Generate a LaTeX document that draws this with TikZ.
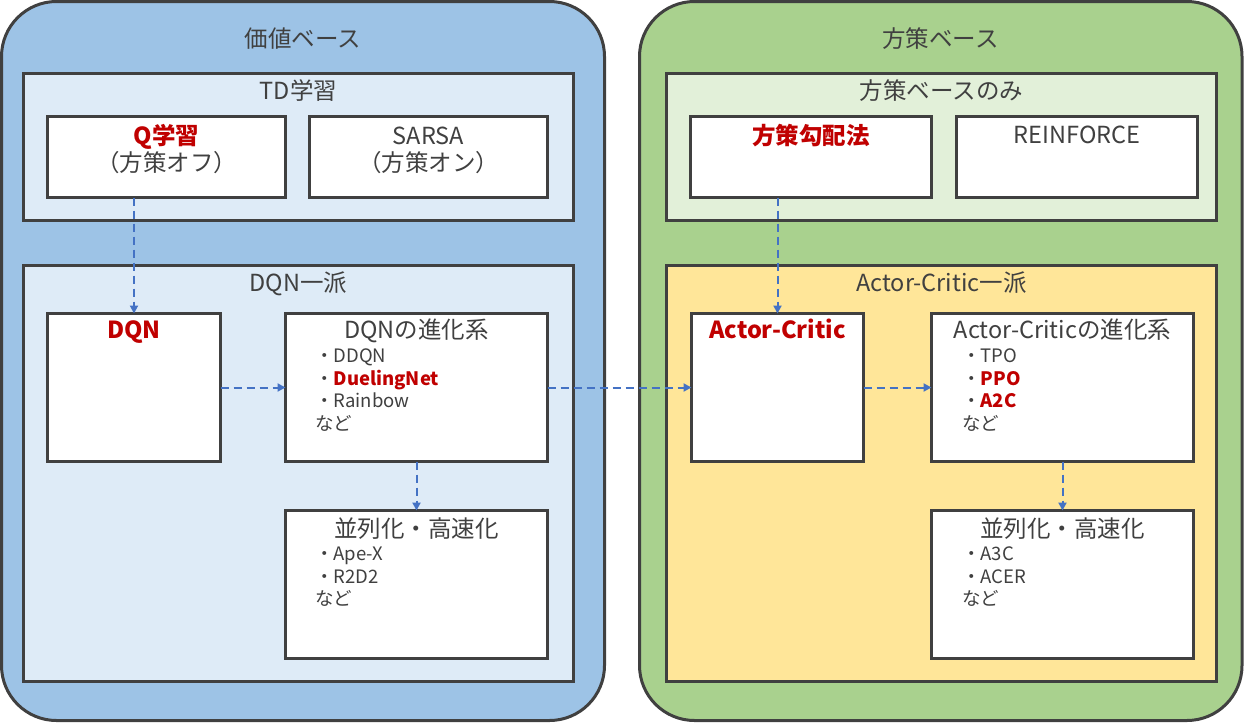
\documentclass[tikz,border=0pt]{standalone}
\usepackage{fontspec}
\setmainfont{Noto Sans CJK JP}
\usetikzlibrary{arrows.meta}
\definecolor{edge}{HTML}{404040}
\definecolor{txt}{HTML}{404040}
\definecolor{redt}{HTML}{C00000}
\definecolor{arr}{HTML}{4472C4}
\definecolor{blueO}{HTML}{9DC3E6}
\definecolor{blueI}{HTML}{DEEBF7}
\definecolor{greenO}{HTML}{A9D18E}
\definecolor{greenI}{HTML}{E2F0D9}
\definecolor{yellowI}{HTML}{FFE699}
\begin{document}
\begin{tikzpicture}[x=1pt,y=-1pt,
  frame/.style={draw=edge, line width=3pt, inner sep=0pt, outer sep=0pt, rectangle},
  wbox/.style={frame, fill=white},
  big/.style={font=\fontsize{23.5}{28}\selectfont, text=txt, inner sep=0pt, anchor=base},
  bigred/.style={font=\fontsize{23.5}{28}\selectfont\bfseries, text=redt, inner sep=0pt, anchor=base},
  item/.style={font=\fontsize{18.5}{22}\selectfont, text=txt, inner sep=0pt, anchor=base west},
  flow/.style={draw=arr, line width=2pt, dash pattern=on 8pt off 5pt, -{Triangle[length=8pt,width=8pt]}},
]
\useasboundingbox (0,0) rectangle (1244,723);

% outer groups
\node[frame, fill=blueO, rounded corners=55pt, minimum width=603pt, minimum height=719pt] (vb) at (303,361) {};
\node[frame, fill=greenO, rounded corners=55pt, minimum width=602.5pt, minimum height=719pt] (pb) at (940.75,361) {};

% left inner groups
\node[frame, fill=blueI, minimum width=550pt, minimum height=147pt] (td) at (298.5,147) {};
\node[frame, fill=blueI, minimum width=550pt, minimum height=416pt] (dqng) at (298.5,473.5) {};
% right inner groups
\node[frame, fill=greenI, minimum width=550pt, minimum height=147pt] (pbo) at (941.5,147) {};
\node[frame, fill=yellowI, minimum width=550pt, minimum height=416pt] (acg) at (941.5,473.5) {};

% white boxes
\node[wbox, minimum width=238pt, minimum height=81pt] (q) at (166.5,157) {};
\node[wbox, minimum width=238pt, minimum height=81pt] (sarsa) at (428.5,157) {};
\node[wbox, minimum width=173pt, minimum height=148pt] (dqn) at (134,387.5) {};
\node[wbox, minimum width=262pt, minimum height=148pt] (dqnevo) at (416.5,387.5) {};
\node[wbox, minimum width=262pt, minimum height=148pt] (dqnpar) at (416.5,584.5) {};

\node[wbox, minimum width=241pt, minimum height=81pt] (pg) at (811,157) {};
\node[wbox, minimum width=241pt, minimum height=81pt] (rf) at (1077,157) {};
\node[wbox, minimum width=172pt, minimum height=148pt] (ac) at (777.5,387.5) {};
\node[wbox, minimum width=262pt, minimum height=148pt] (acevo) at (1062.5,387.5) {};
\node[wbox, minimum width=262pt, minimum height=148pt] (acpar) at (1062.5,584.5) {};

% titles
\node[big] (tvb) at (303,47) {価値ベース};
\node[big] (tpb) at (940.5,47) {方策ベース};
\node[big] (ttd) at (298.5,99) {TD学習};
\node[big] (tpbo) at (941.5,99) {方策ベースのみ};
\node[big] (tdqng) at (298.5,291.5) {DQN一派};
\node[big] (tacg) at (941.5,291.5) {Actor-Critic一派};

% box texts
\node[bigred] (tq) at (166.5,144) {Q学習};
\node[big] (tq2) at (166.5,171.5) {（方策オフ）};
\node[big] (ts) at (428.5,144) {SARSA};
\node[big] (ts2) at (428.5,171.5) {（方策オン）};
\node[bigred] (tpg) at (811,144) {方策勾配法};
\node[big] (trf) at (1077,143.5) {REINFORCE};

\node[bigred] (tdqn) at (134,338) {DQN};
\node[big] (tdqnevo) at (416.5,338) {DQNの進化系};
\node[item] (d1) at (315,362.5) {・DDQN};
\node[item] (d2) at (315,385.2) {・\textcolor{redt}{\bfseries DuelingNet}};
\node[item] (d3) at (315,407.9) {・Rainbow};
\node[item] (d4) at (315,430.6) {など};
\node[big] (tdqnpar) at (416.5,537.5) {並列化・高速化};
\node[item] (p1) at (315,560.5) {・Ape-X};
\node[item] (p2) at (315,583) {・R2D2};
\node[item] (p3) at (315,605.5) {など};

\node[bigred] (tac) at (777.5,338) {Actor-Critic};
\node[big] (tacevo) at (1062.5,338) {Actor-Criticの進化系};
\node[item] (a1) at (962,362.5) {・TPO};
\node[item] (a2) at (962,385.2) {・\textcolor{redt}{\bfseries PPO}};
\node[item] (a3) at (962,407.9) {・\textcolor{redt}{\bfseries A2C}};
\node[item] (a4) at (962,430.6) {など};
\node[big] (tacpar) at (1062.5,537.5) {並列化・高速化};
\node[item] (c1) at (962,560.5) {・A3C};
\node[item] (c2) at (962,583) {・ACER};
\node[item] (c3) at (962,605.5) {など};

% connectors
\draw[flow] (dqn.north |- q.south) -- (dqn.north);
\draw[flow] (dqn.east) -- (dqnevo.west);
\draw[flow] (dqnevo.south) -- (dqnpar.north);
\draw[flow] (dqnevo.east) -- (ac.west);
\draw[flow] (ac.north |- pg.south) -- (ac.north);
\draw[flow] (ac.east) -- (acevo.west);
\draw[flow] (acevo.south) -- (acpar.north);
\end{tikzpicture}
\end{document}
